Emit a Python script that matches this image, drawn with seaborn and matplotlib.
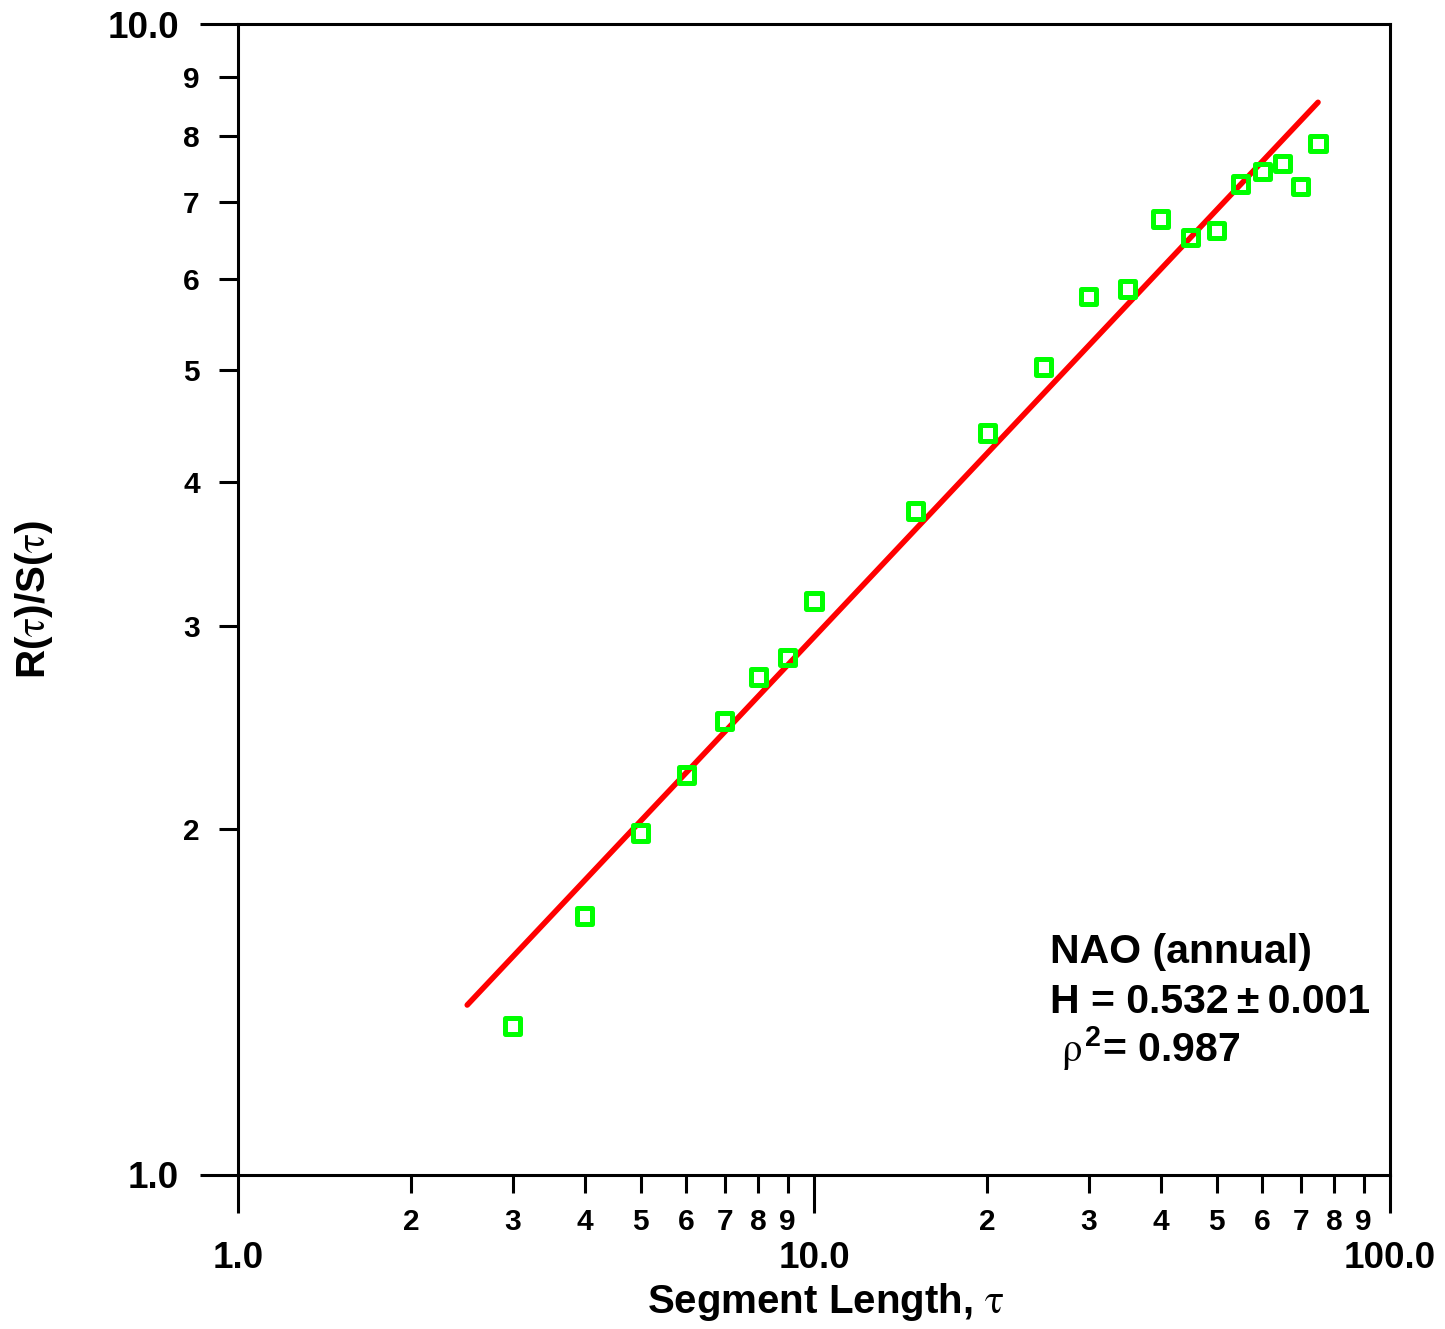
import numpy as np
import pandas as pd
import matplotlib
matplotlib.use("Agg")
import matplotlib.pyplot as plt
import seaborn as sns
from matplotlib.ticker import FixedLocator, FixedFormatter

# ---- data ----
seg_length = [3, 4, 5, 6, 7, 8, 9, 10, 15, 20, 25, 30, 35, 40, 45, 50, 55, 60, 65, 70, 75]
rs_ratio = [1.347, 1.679, 1.982, 2.226, 2.480, 2.708, 2.818, 3.153, 3.775, 4.413,
            5.035, 5.80, 5.886, 6.77, 6.52, 6.62, 7.26, 7.44, 7.57, 7.22, 7.87]
fit_x = [2.5, 75]
fit_y = [1.405, 8.55]

x_major = [1, 10, 100]
x_major_labels = ["1.0", "10.0", "100.0"]
x_minor = [2, 3, 4, 5, 6, 7, 8, 9, 20, 30, 40, 50, 60, 70, 80, 90]
x_minor_labels = ["2", "3", "4", "5", "6", "7", "8", "9"] * 2
y_major = [1, 10]
y_major_labels = ["1.0", "10.0"]
y_minor = [2, 3, 4, 5, 6, 7, 8, 9]
y_minor_labels = ["2", "3", "4", "5", "6", "7", "8", "9"]

annot_lines = ["NAO (annual)", "H = 0.532\u2009\u00b1\u20090.001", r" $\rho^{2}$= 0.987"]

sns.set_style("white")
plt.rcParams["font.family"] = ["Liberation Sans", "DejaVu Sans"]
plt.rcParams["font.weight"] = "bold"
plt.rcParams["text.color"] = "black"
plt.rcParams["axes.labelcolor"] = "black"
plt.rcParams["xtick.color"] = "black"
plt.rcParams["ytick.color"] = "black"
plt.rcParams["mathtext.fontset"] = "custom"
plt.rcParams["mathtext.rm"] = "Liberation Sans:bold"
plt.rcParams["mathtext.bf"] = "Liberation Sans:bold"
plt.rcParams["mathtext.it"] = "STIXGeneral:style=normal:weight=normal"

fig = plt.figure(figsize=(14.45, 13.29), dpi=100)
ax = fig.add_axes([238 / 1445, 154 / 1329, 1152 / 1445, 1151 / 1329])

df = pd.DataFrame({"tau": seg_length, "rs": rs_ratio})
fit = pd.DataFrame({"tau": fit_x, "rs": fit_y})

sns.lineplot(data=fit, x="tau", y="rs", ax=ax, color="#ff0000", linewidth=4.0, zorder=2)
sns.scatterplot(data=df, x="tau", y="rs", ax=ax, marker="s", s=120,
                facecolor="none", edgecolor="#00ff00", linewidth=3.6, zorder=3)

ax.set_xscale("log")
ax.set_yscale("log")
ax.set_xlim(1, 100)
ax.set_ylim(1, 10)

ax.xaxis.set_major_locator(FixedLocator(x_major))
ax.xaxis.set_major_formatter(FixedFormatter(x_major_labels))
ax.xaxis.set_minor_locator(FixedLocator(x_minor))
ax.xaxis.set_minor_formatter(FixedFormatter(x_minor_labels))
ax.yaxis.set_major_locator(FixedLocator(y_major))
ax.yaxis.set_major_formatter(FixedFormatter(y_major_labels))
ax.yaxis.set_minor_locator(FixedLocator(y_minor))
ax.yaxis.set_minor_formatter(FixedFormatter(y_minor_labels))

for sp in ax.spines.values():
    sp.set_visible(True)
    sp.set_linewidth(2.2)
    sp.set_color("black")

ax.tick_params(axis="both", which="both", direction="out", width=2.2, color="black",
               labelcolor="black", top=False, right=False, left=True, bottom=True)
ax.tick_params(axis="x", which="major", length=27.5, pad=20, labelsize=26.5)
ax.tick_params(axis="x", which="minor", length=13, pad=11, labelsize=21.5)
ax.tick_params(axis="y", which="major", length=27.5, pad=15, labelsize=26.5)
ax.tick_params(axis="y", which="minor", length=13.5, pad=14, labelsize=21.5)
for lab in ax.get_xticklabels(which="both") + ax.get_yticklabels(which="both"):
    lab.set_fontweight("bold")

ax.set_xlabel(r"Segment Length, $\tau$", fontsize=29, fontweight="bold")
ax.set_ylabel(r"R($\tau$)/S($\tau$)", fontsize=29, fontweight="bold")
ax.xaxis.set_label_coords(0.510, -0.092)
ax.yaxis.set_label_coords(-0.159, 0.5)

ys = [0.1842, 0.1407, 0.0982]
for txt, yy in zip(annot_lines, ys):
    ax.text(0.705, yy, txt, transform=ax.transAxes, fontsize=29.5, fontweight="bold",
            ha="left", va="baseline")

fig.savefig("out.png", dpi=100)
